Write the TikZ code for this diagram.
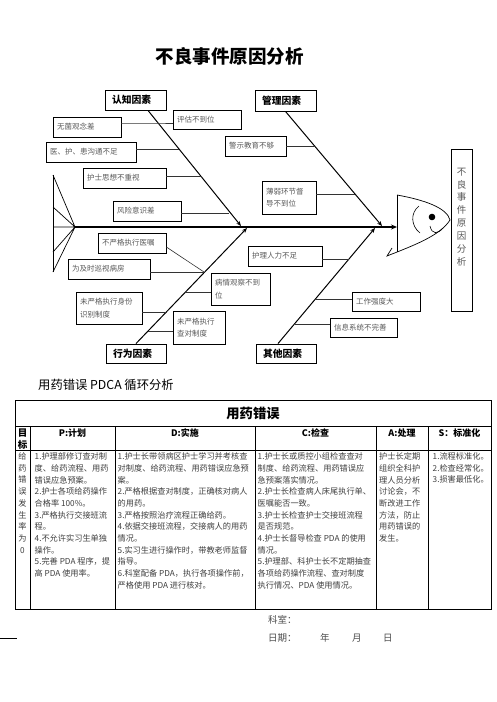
\documentclass[tikz,border=0pt]{standalone}
\usepackage{fontspec}
\setmainfont{Noto Sans CJK SC}
\usetikzlibrary{arrows.meta,calc}
\tikzset{
  lbl/.style={draw, line width=0.7pt, inner xsep=4pt, inner ysep=1pt, align=left, text=black!65, font=\fontsize{7.5}{12.5}\selectfont},
  cat/.style={draw, line width=0.9pt, inner xsep=4pt, inner ysep=1pt, align=left, font=\bfseries\fontsize{9.8}{12}\selectfont},
  bone/.style={line width=1pt, -{Stealth[length=5pt,width=4pt]}},
  spine/.style={line width=1.6pt, -{Stealth[length=6pt,width=5pt]}},
  twig/.style={line width=0.6pt, black!80},
  tail/.style={line width=0.7pt},
  tcell/.style={anchor=north west, inner sep=0pt, align=left, text=black!75, font=\fontsize{8.2}{11.7}\selectfont},
  thead/.style={inner sep=0pt, font=\bfseries\fontsize{9}{12}\selectfont},
  trule/.style={line width=0.7pt},
  foot/.style={anchor=west, inner sep=0pt, text=black!70, font=\fontsize{9.5}{12}\selectfont}
}
\newcommand\fbx[7]{%
 \pgfmathsetmacro\myBW{#4-#2}\pgfmathsetmacro\myBH{#5-#3}%
 \pgfmathsetmacro\myTW{#4-#2-8}%
 \pgfmathsetmacro\myCX{(#2+#4)/2}\pgfmathsetmacro\myCY{(#3+#5)/2}%
 \node[#6, minimum width=\myBW pt, minimum height=\myBH pt, text width=\myTW pt] (#1) at (\myCX,\myCY) {#7};}
\begin{document}
\begin{tikzpicture}[x=1pt,y=-1pt]
\useasboundingbox (0,0) rectangle (496,702);
\fill[white] (0,0) rectangle (496,702);

% title
\node[font=\bfseries\fontsize{18.5}{20}\selectfont] (title) at (229.5,56) {不良事件原因分析};

% category boxes
\fbx{rz}{105}{90}{166}{110}{cat}{\hspace*{3pt}认知因素}
\fbx{gl}{255}{90}{316}{111}{cat}{\hspace*{3pt}管理因素}
\fbx{xw}{106}{344}{166}{363}{cat}{\hspace*{3pt}行为因素}
\fbx{qt}{256}{344}{316}{363}{cat}{\hspace*{3pt}其他因素}

% cause boxes
\fbx{pg}{173}{110}{241}{129}{lbl}{评估不到位}
\fbx{wj}{53}{117}{121}{137}{lbl}{无菌观念差}
\fbx{yh}{46}{142}{136}{162}{lbl}{医、护、患沟通不足}
\fbx{hs}{83}{168}{166}{188}{lbl}{护士思想不重视}
\fbx{fx}{113}{201}{181}{221}{lbl}{风险意识差}
\fbx{js}{225}{136}{286}{156}{lbl}{警示教育不够}
\fbx{br}{262}{181}{316}{214}{lbl}{薄弱环节督\\导不到位}
\fbx{yz}{98}{233}{166}{253}{lbl}{不严格执行医嘱}
\fbx{xs}{68}{259}{150}{279}{lbl}{为及时巡视病房}
\fbx{bq}{211}{273}{270}{305}{lbl}{病情观察不到\\位}
\fbx{sf}{76}{292}{142}{324}{lbl}{未严格执行身份\\识别制度}
\fbx{cd}{173}{311}{225}{344}{lbl}{未严格执行\\查对制度}
\fbx{rl}{248}{246}{322}{266}{lbl}{护理人力不足}
\fbx{gz}{352}{292}{420}{311}{lbl}{工作强度大}
\fbx{xx}{330}{318}{397}{337}{lbl}{信息系统不完善}

% vertical result box
\node[draw, line width=0.8pt, minimum width=21pt, minimum height=162pt, inner sep=0pt] (res) at (461.5,230) {};
\node[inner sep=0pt, align=center, text=black!65, font=\fontsize{9.5}{12.9}\selectfont] (rest) at (461.5,217) {不\\良\\事\\件\\原\\因\\分\\析};

% spine and tail
\coordinate (tc) at (75,227);
\coordinate (hd) at (397,227);
\coordinate (tl0) at (53,227);
\coordinate (tl1) at (53,175);
\coordinate (tl2) at (53,207);
\coordinate (tl3) at (53,252);
\coordinate (tl4) at (53,272);
\draw[tail] (tl1) -- (tl4);
\draw[tail] (tc) -- (tl1) (tc) -- (tl2) (tc) -- (tl0) (tc) -- (tl3) (tc) -- (tl4);
\draw[spine] (tc) -- (hd);

% fish head
\coordinate (ht) at (397,195);
\coordinate (hb) at (397,252);
\coordinate (ns) at (450,220);
\draw[line width=0.7pt] (ht) -- (hb);
\draw[line width=0.7pt] (ht) .. controls (425,200) and (447,208) .. (ns)
  .. controls (440,236) and (412,246) .. (387,256) -- (392,248);
\fill (432,217) circle (3.3);
\draw[line width=0.6pt] (419,206) .. controls (410,213) and (411,226) .. (420,233);
\draw[line width=0.6pt] (430,226) .. controls (432,235) and (438,234) .. (443,228);

% bones
\coordinate (t1) at (241,226);
\coordinate (t2) at (382,226);
\coordinate (t3) at (247,228);
\coordinate (t4) at (375,228);
\draw[bone] ($(rz.south)+(12.5,0)$) -- (t1);
\draw[bone] (gl.south) -- (t2);
\draw[bone] (xw.north) -- (t3);
\draw[bone] ($(qt.north)+(-8,0)$) -- (t4);

% twigs, cognitive
\coordinate (j1) at (158.4,123);
\coordinate (j2) at (179,149);
\coordinate (j3) at (202.4,176);
\coordinate (j4) at (228.8,213);
\draw[twig] (wj.east |- j1) -- (j1) -- (pg.west |- j1);
\draw[twig] (yh.east |- j2) -- (j2);
\draw[twig] (hs.east |- j3) -- (j3);
\draw[twig] (fx.east |- j4) -- (j4);
% management
\coordinate (j5) at (314.9,146);
\coordinate (j6) at (355,194);
\draw[twig] (js.east |- j5) -- (j5);
\draw[twig] (br.east |- j6) -- (j6);
% behaviour
\coordinate (j7) at (204,272);
\coordinate (j8) at (185.8,292);
\coordinate (j9) at (166.6,312);
\coordinate (j10) at (148.4,331);
\draw[twig] (yz.east |- 0,247) -- (j7);
\draw[twig] (xs.east |- j7) -- (j7);
\draw[twig] (bq.west |- j8) -- (j8);
\draw[twig] (sf.east |- j9) -- (j9);
\draw[twig] (cd.west |- j10) -- (j10);
% other
\coordinate (j11) at (348.5,259);
\coordinate (j12) at (315.3,299);
\coordinate (j13) at (294.6,324);
\draw[twig] (rl.east |- j11) -- (j11);
\draw[twig] (gz.west |- j12) -- (j12);
\draw[twig] (xx.west |- j13) -- (j13);

% PDCA heading
\node[anchor=west, inner sep=0pt, font=\fontsize{12.3}{14}\selectfont] (pdca) at (38,385) {用药错误 PDCA 循环分析};

% table
\draw[trule] (15,400) rectangle (491,609);
\draw[trule] (15,426) -- (491,426);
\draw[trule] (15,450) -- (491,450);
\foreach \cx in {30,115,255,376,428} \draw[trule] (\cx,426) -- (\cx,609);

\node[font=\bfseries\fontsize{13.3}{15}\selectfont, inner sep=0pt] (tt) at (253,413) {用药错误};
\node[thead, align=center, font=\bfseries\fontsize{9.5}{12}\selectfont] (h0) at (22.5,439) {目\\标};
\node[thead] (h1) at (72.5,433.5) {P:计划};
\node[thead] (h2) at (185,433.5) {D:实施};
\node[thead] (h3) at (315.5,433.5) {C:检查};
\node[thead] (h4) at (402,433.5) {A:处理};
\node[thead] (h5) at (459.5,433.5) {S：标准化};

\node[tcell, anchor=north, align=center] (c0) at (22.5,452.5) {给\\药\\错\\误\\发\\生\\率\\为\\0};
\node[tcell] (c1) at (34.5,452.5) {1.护理部修订查对制\\度、给药流程、用药\\错误应急预案。\\2.护士各项给药操作\\合格率 100\%。\\3.严格执行交接班流\\程。\\4.不允许实习生单独\\操作。\\5.完善 PDA 程序，提\\高 PDA 使用率。};
\node[tcell] (c2) at (117.5,452.5) {1.护士长带领病区护士学习并考核查\\对制度、给药流程、用药错误应急预\\案。\\2.严格根据查对制度，正确核对病人\\的用药。\\3.严格按照治疗流程正确给药。\\4.依据交接班流程，交接病人的用药\\情况。\\5.实习生进行操作时，带教老师监督\\指导。\\6.科室配备 PDA，执行各项操作前，\\严格使用 PDA 进行核对。};
\node[tcell] (c3) at (257.5,452.5) {1.护士长或质控小组检查查对\\制度、给药流程、用药错误应\\急预案落实情况。\\2.护士长检查病人床尾执行单、\\医嘱能否一致。\\3.护士长检查护士交接班流程\\是否规范。\\4.护士长督导检查 PDA 的使用\\情况。\\5.护理部、科护士长不定期抽查\\各项给药操作流程、查对制度\\执行情况、PDA 使用情况。};
\node[tcell] (c4) at (379,452.5) {护士长定期\\组织全科护\\理人员分析\\讨论会，不\\断改进工作\\方法，防止\\用药错误的\\发生。};
\node[tcell] (c5) at (432.5,452.5) {1.流程标准化。\\2.检查经常化。\\3.损害最低化。};

% footer
\node[foot] (ks) at (268,620) {科室：};
\node[foot] (rq) at (268,638) {日期：};
\node[foot] (yr) at (320,638) {年};
\node[foot] (yu) at (352,638) {月};
\node[foot] (ri) at (383,638) {日};
\coordinate (fl0) at (0,638);
\coordinate (fl1) at (17,638);
\draw[line width=0.8pt] (fl0) -- (fl1);
\end{tikzpicture}
\end{document}
